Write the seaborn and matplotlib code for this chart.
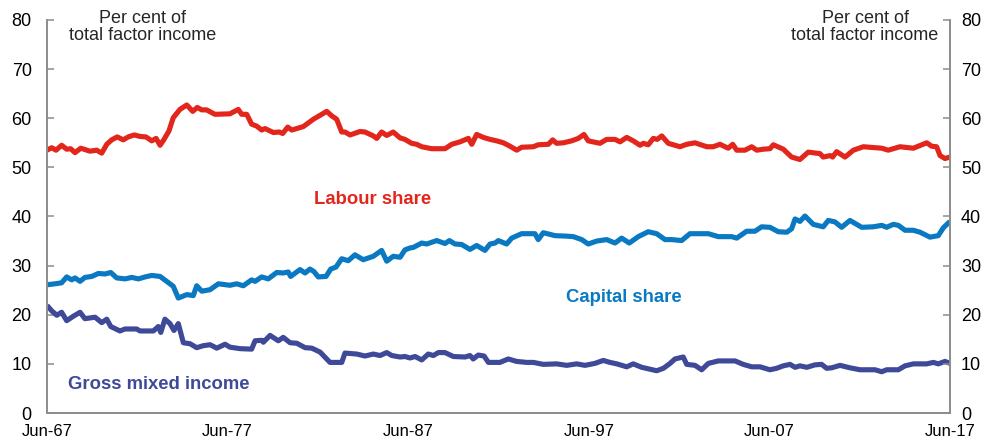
import matplotlib
matplotlib.use("Agg")
import matplotlib.pyplot as plt
import seaborn as sns
import pandas as pd

# ---------------- data ----------------
labour_year = [1967.5, 1967.76, 1968.0, 1968.31, 1968.59, 1968.81, 1969.05, 1969.37, 1969.88, 1970.25,
               1970.53, 1970.81, 1971.08, 1971.39, 1971.72, 1972.0, 1972.33, 1972.65, 1972.98, 1973.3,
               1973.54, 1973.76, 1973.98, 1974.25, 1974.49, 1974.86, 1975.24, 1975.57, 1975.82, 1976.07,
               1976.34, 1976.8, 1977.63, 1978.09, 1978.28, 1978.56, 1978.83, 1979.11, 1979.39, 1979.57,
               1980.03, 1980.36, 1980.55, 1980.83, 1981.05, 1981.69, 1982.25, 1982.62, 1982.99, 1983.26,
               1983.54, 1983.82, 1984.0, 1984.28, 1984.83, 1985.11, 1985.57, 1985.76, 1986.03, 1986.31,
               1986.67, 1987.05, 1987.32, 1987.69, 1987.97, 1988.25, 1988.8, 1989.54, 1989.91, 1990.37,
               1990.83, 1991.02, 1991.29, 1991.66, 1992.03, 1992.4, 1992.77, 1993.14, 1993.51, 1993.78,
               1994.43, 1994.7, 1995.26, 1995.5, 1995.72, 1996.09, 1996.55, 1996.92, 1997.23, 1997.47,
               1998.12, 1998.49, 1998.95, 1999.23, 1999.6, 1999.96, 2000.34, 2000.52, 2000.79, 2001.07,
               2001.29, 2001.54, 2001.9, 2002.55, 2002.92, 2003.38, 2004.03, 2004.39, 2004.76, 2005.22,
               2005.47, 2005.69, 2006.15, 2006.52, 2006.8, 2007.16, 2007.53, 2007.72, 2008.27, 2008.73,
               2009.19, 2009.65, 2010.3, 2010.48, 2010.86, 2011.0, 2011.22, 2011.69, 2012.15, 2012.7,
               2013.72, 2014.08, 2014.73, 2015.47, 2016.21, 2016.49, 2016.76, 2016.95, 2017.22, 2017.5]
labour_share = [53.5, 54.0, 53.5, 54.5, 53.7, 53.8, 53.0, 53.9, 53.3, 53.5,
                52.9, 54.7, 55.6, 56.2, 55.6, 56.2, 56.6, 56.3, 56.2, 55.4,
                55.9, 54.5, 55.7, 57.4, 60.1, 61.8, 62.7, 61.4, 62.2, 61.7,
                61.7, 60.8, 60.9, 61.8, 60.8, 60.8, 58.8, 58.4, 57.6, 57.9,
                57.1, 57.2, 56.9, 58.2, 57.6, 58.3, 59.8, 60.6, 61.4, 60.5,
                59.8, 57.2, 57.2, 56.6, 57.3, 57.2, 56.4, 55.9, 57.2, 56.5,
                57.2, 56.0, 55.7, 54.9, 54.7, 54.2, 53.8, 53.8, 54.7, 55.2,
                55.9, 54.7, 56.7, 56.1, 55.7, 55.4, 55.0, 54.3, 53.5, 54.1,
                54.2, 54.6, 54.7, 55.6, 54.9, 55.0, 55.4, 55.9, 56.7, 55.4,
                54.9, 55.7, 55.7, 55.2, 56.1, 55.4, 54.5, 54.9, 54.6, 55.9,
                55.7, 56.4, 54.9, 54.2, 54.7, 55.0, 54.2, 54.2, 54.7, 53.9,
                54.7, 53.5, 53.5, 54.2, 53.5, 53.7, 53.8, 54.6, 53.7, 52.1,
                51.6, 53.1, 52.8, 52.1, 52.4, 52.1, 53.2, 52.1, 53.5, 54.2,
                53.9, 53.5, 54.2, 53.9, 55.0, 54.3, 54.2, 52.4, 51.8, 52.1]

capital_year = [1967.5, 1967.94, 1968.31, 1968.59, 1968.87, 1969.05, 1969.33, 1969.6, 1969.98, 1970.34,
                1970.71, 1971.03, 1971.36, 1971.82, 1972.19, 1972.56, 1972.93, 1973.3, 1973.76, 1974.13,
                1974.49, 1974.77, 1975.24, 1975.6, 1975.79, 1976.07, 1976.53, 1976.99, 1977.63, 1978.0,
                1978.37, 1978.83, 1979.02, 1979.39, 1979.75, 1980.22, 1980.58, 1980.86, 1980.99, 1981.51,
                1981.79, 1982.06, 1982.28, 1982.52, 1982.95, 1983.21, 1983.5, 1983.82, 1984.18, 1984.55,
                1985.01, 1985.57, 1986.03, 1986.31, 1986.67, 1987.05, 1987.32, 1987.6, 1987.78, 1988.25,
                1988.52, 1989.08, 1989.54, 1989.78, 1990.09, 1990.46, 1990.92, 1991.29, 1991.75, 1992.03,
                1992.31, 1992.49, 1992.95, 1993.23, 1993.78, 1994.52, 1994.7, 1994.98, 1995.63, 1996.28,
                1996.64, 1997.11, 1997.47, 1997.94, 1998.49, 1998.95, 1999.32, 1999.74, 2000.24, 2000.79,
                2001.26, 2001.72, 2002.09, 2002.64, 2003.1, 2004.12, 2004.67, 2005.41, 2005.69, 2006.24,
                2006.7, 2007.07, 2007.53, 2007.99, 2008.46, 2008.73, 2008.92, 2009.19, 2009.47, 2009.93,
                2010.48, 2010.76, 2011.13, 2011.5, 2011.96, 2012.61, 2013.25, 2013.72, 2013.99, 2014.36,
                2014.64, 2015.01, 2015.47, 2015.84, 2016.39, 2016.85, 2017.13, 2017.5]
capital_share = [26.1, 26.3, 26.5, 27.7, 27.1, 27.5, 26.8, 27.6, 27.8, 28.4,
                 28.3, 28.6, 27.5, 27.3, 27.6, 27.3, 27.7, 28.0, 27.8, 26.8,
                 25.8, 23.4, 24.1, 23.9, 25.9, 24.8, 25.1, 26.3, 26.0, 26.3,
                 25.9, 27.1, 26.8, 27.7, 27.3, 28.6, 28.5, 28.7, 27.8, 29.2,
                 28.5, 29.3, 28.8, 27.7, 27.8, 29.3, 29.7, 31.4, 31.0, 32.2,
                 31.2, 31.9, 33.1, 30.9, 31.9, 31.7, 33.2, 33.6, 33.7, 34.6,
                 34.4, 35.1, 34.5, 35.1, 34.4, 34.3, 33.3, 34.1, 33.1, 34.4,
                 34.6, 35.1, 34.4, 35.6, 36.5, 36.5, 35.3, 36.7, 36.1, 36.0,
                 35.9, 35.3, 34.4, 35.0, 35.3, 34.6, 35.6, 34.6, 35.9, 36.9,
                 36.5, 35.3, 35.3, 35.1, 36.5, 36.5, 35.9, 35.9, 35.6, 37.0,
                 37.0, 37.9, 37.8, 36.9, 36.8, 37.5, 39.5, 39.0, 40.1, 38.4,
                 37.9, 39.2, 38.9, 37.8, 39.2, 37.8, 37.9, 38.2, 37.8, 38.4,
                 38.2, 37.2, 37.2, 36.8, 35.8, 36.1, 37.7, 39.0]

gmi_year = [1967.5, 1967.76, 1968.04, 1968.31, 1968.59, 1968.96, 1969.33, 1969.6, 1970.16, 1970.53,
            1970.81, 1971.03, 1971.54, 1971.82, 1972.47, 1972.65, 1973.39, 1973.66, 1973.8, 1974.03,
            1974.31, 1974.53, 1974.77, 1975.05, 1975.42, 1975.79, 1976.15, 1976.53, 1976.9, 1977.36,
            1977.63, 1978.19, 1978.83, 1979.02, 1979.39, 1979.48, 1979.85, 1980.31, 1980.58, 1980.96,
            1981.33, 1981.79, 1982.16, 1982.62, 1982.99, 1983.17, 1983.82, 1984.0, 1984.65, 1985.11,
            1985.57, 1985.94, 1986.31, 1986.59, 1987.05, 1987.32, 1987.6, 1987.88, 1988.25, 1988.61,
            1988.89, 1989.17, 1989.54, 1990.0, 1990.65, 1990.92, 1991.1, 1991.38, 1991.7, 1991.94,
            1992.58, 1993.04, 1993.51, 1994.06, 1994.43, 1994.98, 1995.72, 1996.28, 1996.83, 1997.29,
            1997.57, 1997.84, 1998.3, 1998.67, 1999.05, 1999.6, 1999.96, 2000.43, 2000.89, 2001.26,
            2001.63, 2002.0, 2002.27, 2002.73, 2002.92, 2003.38, 2003.75, 2004.12, 2004.67, 2005.6,
            2006.05, 2006.52, 2006.98, 2007.53, 2007.9, 2008.27, 2008.64, 2008.92, 2009.19, 2009.57,
            2010.02, 2010.39, 2010.67, 2010.95, 2011.41, 2011.96, 2012.52, 2013.35, 2013.72, 2013.99,
            2014.64, 2015.01, 2015.47, 2016.21, 2016.58, 2016.85, 2017.22, 2017.5]
gross_mixed_income = [21.9, 20.8, 19.9, 20.5, 18.8, 19.7, 20.5, 19.2, 19.5, 18.4,
                      19.1, 17.6, 16.7, 17.1, 17.1, 16.7, 16.7, 17.6, 16.4, 19.1,
                      18.2, 16.8, 18.2, 14.3, 14.1, 13.3, 13.7, 13.9, 13.2, 14.0,
                      13.4, 13.1, 13.0, 14.7, 14.8, 14.4, 15.8, 14.7, 15.4, 14.3,
                      14.2, 13.3, 13.2, 12.4, 11.0, 10.3, 10.3, 12.2, 12.0, 11.6,
                      12.0, 11.7, 12.3, 11.7, 11.4, 11.5, 11.2, 11.5, 10.8, 12.0,
                      11.7, 12.3, 12.3, 11.5, 11.4, 11.7, 11.0, 11.8, 11.6, 10.3,
                      10.3, 11.0, 10.5, 10.3, 10.3, 9.9, 10.0, 9.7, 10.0, 9.7,
                      9.9, 10.1, 10.7, 10.3, 10.0, 9.4, 10.0, 9.3, 8.9, 8.6,
                      9.1, 10.1, 11.0, 11.4, 9.9, 9.7, 8.8, 10.1, 10.6, 10.6,
                      9.9, 9.4, 9.4, 8.8, 9.1, 9.6, 9.9, 9.3, 9.6, 9.3,
                      9.8, 9.9, 9.1, 9.2, 9.7, 9.2, 8.8, 8.8, 8.4, 8.8,
                      8.8, 9.6, 10.0, 10.0, 10.3, 10.0, 10.5, 10.1]

x_tick_years = [1967.5, 1977.5, 1987.5, 1997.5, 2007.5, 2017.5]
x_tick_labels = ["Jun-67", "Jun-77", "Jun-87", "Jun-97", "Jun-07", "Jun-17"]
y_ticks = [0, 10, 20, 30, 40, 50, 60, 70, 80]
unit_label = "Per cent of\ntotal factor income"
series_names = ["Labour share", "Capital share", "Gross mixed income"]

# ---------------- styling ----------------
sns.set_theme(style="white")
plt.rcParams["font.family"] = ["Liberation Sans", "DejaVu Sans"]

RED = "#E2261C"
BLUE = "#0A79C2"
NAVY = "#3E4A98"
AXIS_GREY = "#8C8C8C"

df = pd.concat([
    pd.DataFrame({"year": labour_year, "value": labour_share, "series": series_names[0]}),
    pd.DataFrame({"year": capital_year, "value": capital_share, "series": series_names[1]}),
    pd.DataFrame({"year": gmi_year, "value": gross_mixed_income, "series": series_names[2]}),
])

fig = plt.figure(figsize=(9.94, 4.45), dpi=100)
ax = fig.add_axes([47 / 994, 1 - 413 / 445, 903 / 994, 393 / 445])

sns.lineplot(data=df, x="year", y="value", hue="series",
             palette={series_names[0]: RED, series_names[1]: BLUE, series_names[2]: NAVY},
             hue_order=[series_names[2], series_names[1], series_names[0]],
             linewidth=3.7, legend=False, ax=ax, sort=False, estimator=None,
             solid_joinstyle="round", solid_capstyle="butt")

ax.set_xlim(x_tick_years[0], x_tick_years[-1])
ax.set_ylim(0, 80)
ax.set_xlabel("")
ax.set_ylabel("")
ax.set_xticks(x_tick_years)
ax.set_xticklabels(x_tick_labels)
ax.set_yticks(y_ticks)
ax.tick_params(axis="y", direction="in", length=5, width=1.1, color=AXIS_GREY,
               labelsize=13, pad=11, labelcolor="black")
ax.tick_params(axis="x", direction="in", length=5, width=1.1, color=AXIS_GREY,
               labelsize=12, pad=8, labelcolor="black")

ax2 = ax.twinx()
ax2.set_ylim(0, 80)
ax2.set_yticks(y_ticks)
ax2.tick_params(axis="y", direction="in", length=5, width=1.1, color=AXIS_GREY,
                labelsize=13, pad=8, labelcolor="black")
ax2.grid(False)

for a in (ax, ax2):
    a.spines["top"].set_visible(False)
    for s in ("left", "right", "bottom"):
        a.spines[s].set_color(AXIS_GREY)
        a.spines[s].set_linewidth(1.2)

ax.text(0.106, 0.982, unit_label, transform=ax.transAxes, ha="center", va="center",
        fontsize=13, linespacing=1.05)
ax.text(0.906, 0.982, unit_label, transform=ax.transAxes, ha="center", va="center",
        fontsize=13, linespacing=1.05)

ax.text(1985.55, 43.5, series_names[0], color=RED, fontsize=13.3, fontweight="bold",
        ha="center", va="center")
ax.text(1999.45, 23.5, series_names[1], color=BLUE, fontsize=13.3, fontweight="bold",
        ha="center", va="center")
ax.text(1973.7, 5.7, series_names[2], color=NAVY, fontsize=13.3, fontweight="bold",
        ha="center", va="center")

fig.savefig("out.png", dpi=100)
